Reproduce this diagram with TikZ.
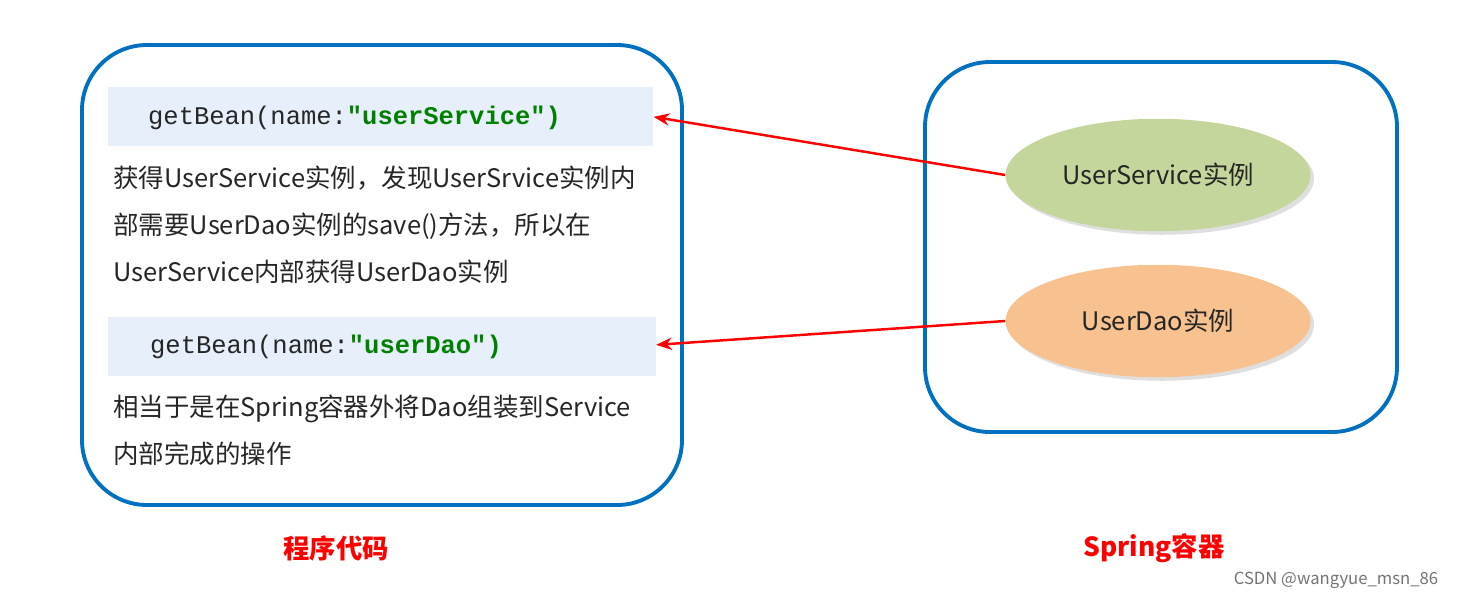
\documentclass[tikz,border=0pt]{standalone}
\usepackage{fontspec}
\setmainfont{Noto Sans CJK SC}
\newfontfamily\codefont{Liberation Mono}
\usetikzlibrary{positioning,calc,arrows.meta,shadows,shapes.geometric}
\definecolor{boxblue}{RGB}{0,112,192}
\definecolor{codebg}{RGB}{231,239,251}
\definecolor{svcgreen}{RGB}{196,214,155}
\definecolor{daoorange}{RGB}{248,193,144}
\definecolor{strgreen}{RGB}{0,128,0}
\tikzset{font=\fontsize{14.5pt}{26.5pt}\selectfont}

\begin{document}
\begin{tikzpicture}[x=0.02cm, y=-0.02cm,
	container/.style={draw=boxblue, line width=2.2pt, rounded corners=1.3cm},
	codebox/.style={fill=codebg, minimum width=10.9cm, minimum height=1.18cm, inner sep=0pt, anchor=north west},
	bean/.style={ellipse, minimum width=6.1cm, minimum height=2.25cm, drop shadow={opacity=0.25, shadow xshift=2pt, shadow yshift=-2pt}},
	link/.style={-{Stealth[length=9pt, width=7pt]}, red, line width=1.4pt},
	caption/.style={red, font=\fontsize{15pt}{18pt}\selectfont\bfseries}]
	\useasboundingbox (0,0) rectangle (1464,599);
	\tikzset{every node/.append style={text=black!85}}

	% boxes
	\draw[container] (82,45) rectangle (682,505);
	\draw[container] (925,62) rectangle (1397,432);

	% left side
	\node[codebox] (get1) at (108,87) {};
	\node[anchor=west] (code1) at (142,118) {\codefont getBean(name:\textcolor{strgreen}{\bfseries"userService")}};
	\node[anchor=north west, align=left, inner sep=0pt] (desc1) at (113,166)
		{获得UserService实例，发现UserSrvice实例内\\部需要UserDao实例的save()方法，所以在\\UserService内部获得UserDao实例};
	\node[codebox, minimum width=10.95cm] (get2) at (108,317) {};
	\node[anchor=west] (code2) at (144,347) {\codefont getBean(name:\textcolor{strgreen}{\bfseries"userDao")}};
	\node[anchor=north west, align=left, inner sep=0pt] (desc2) at (113,395)
		{相当于是在Spring容器外将Dao组装到Service\\内部完成的操作};

	% right side
	\node[bean, fill=svcgreen] (svc) at (1158,175) {UserService实例};
	\node[bean, fill=daoorange] (dao) at (1158,321) {UserDao实例};

	\draw[link] (svc.west) -- (get1.east);
	\draw[link] (dao.west) -- ($(get2.east)+(0,-2)$);

	% captions
	\node[caption] (capL) at (336,548) {程序代码};
	\node[caption] (capR) at (1154,548) {Spring容器};
	\node[text=black!55, font=\fontsize{9.5pt}{11pt}\selectfont] (mark) at (1336,580) {CSDN @wangyue\_msn\_86};
\end{tikzpicture}
\end{document}
